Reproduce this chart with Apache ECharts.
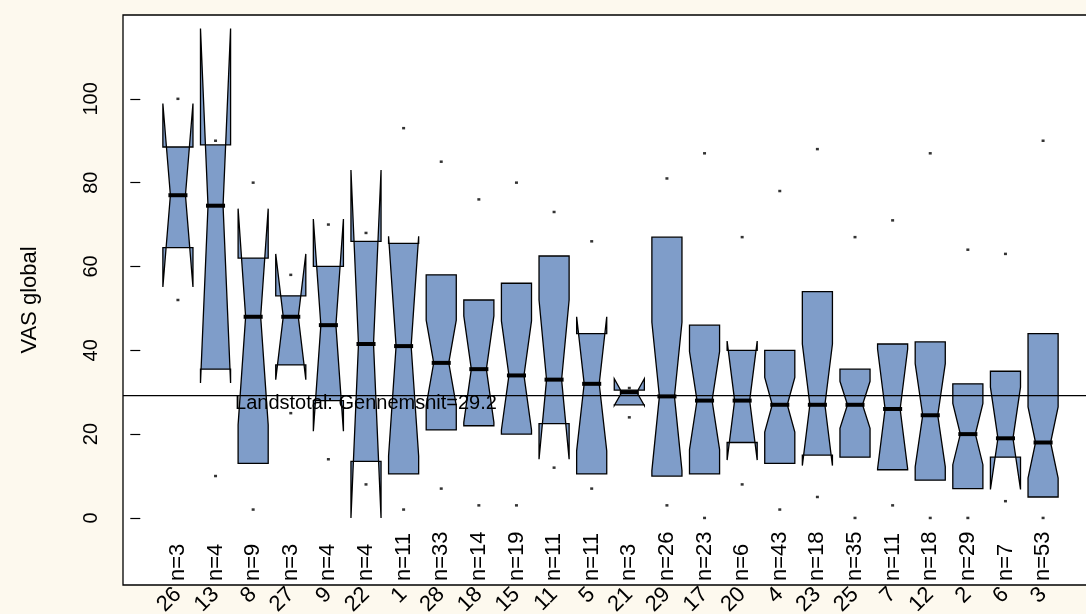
<!DOCTYPE html>
<html>
<head>
<meta charset="utf-8">
<script src="https://cdn.jsdelivr.net/npm/echarts@6/dist/echarts.min.js"></script>
<style>
  html, body { margin: 0; padding: 0; background: #fdf9ee; }
  #chart { width: 1086px; height: 614px; }
</style>
</head>
<body>
<div id="chart"></div>
<script>
// Groups in plotting order (sorted by median VAS)
const groups = ['26','13','8','27','9','22','1','28','18','15','11','5','21','29','17','20','4','23','25','7','12','2','6','3'];
const counts = [3,4,9,3,4,4,11,33,14,19,11,11,3,26,23,6,43,18,35,11,18,29,7,53];

// Box statistics
const lowerHinge = [64.5,35.5,13,36.5,28,13.5,10.5,21,22,20,22.5,10.5,27,10,10.5,18,13,15,14.5,11.5,9,7,14.5,5];
const medians    = [77,74.5,48,48,46,41.5,41,37,35.5,34,33,32,30,29,28,28,27,27,27,26,24.5,20,19,18];
const upperHinge = [88.5,89,62,53,60,66,65.5,58,52,56,62.5,44,30.5,67,46,40,40,54,35.5,41.5,42,32,35,44];

// Notch limits around the median
const notchLow  = [55.1,32.2,22.2,33,20.7,0,14.8,26.8,22.8,21,14,16,26.8,11.3,16.3,13.8,20.5,12.5,21.4,11.7,12.2,12.7,6.8,9.5];
const notchHigh = [98.9,116.8,73.8,63,71.3,83,67.2,47.2,48.2,47,52,48,33.2,46.7,39.7,42.2,33.5,41.5,32.6,40.3,36.8,27.3,31.2,26.5];

// Extreme observations per group
const minPoints = [52,10,2,25,14,8,2,7,3,3,12,7,24,3,0,8,2,5,0,3,0,0,4,0];
const maxPoints = [100,90,80,58,70,68,93,85,76,80,73,66,31,81,87,67,78,88,67,71,87,64,63,90];

// Overall mean
const overallMean = 29.2;
const meanLabel = 'Landstotal: Gennemsnit=' + overallMean;
const meanLabelAt = [6, 27.2];

const yTicks = [0, 20, 40, 60, 80, 100];

const FONT = "'Liberation Sans', Arial, Helvetica, sans-serif";
const BOX_FILL = '#7f9dc9';
const HALF_W = 0.4;
const NOTCH_FRAC = 0.5;

const boxData = groups.map((g, i) => [i + 1, lowerHinge[i], medians[i], upperHinge[i], notchLow[i], notchHigh[i], counts[i]]);
const pointData = [];
groups.forEach((g, i) => {
  pointData.push([i + 1, minPoints[i]]);
  pointData.push([i + 1, maxPoints[i]]);
});

function renderBox(params, api) {
  const x = api.value(0);
  const q1 = api.value(1), md = api.value(2), q3 = api.value(3);
  const lo = api.value(4), hi = api.value(5), n = api.value(6);
  const w = HALF_W, f = NOTCH_FRAC;
  const outline = [
    [x - w, q1], [x + w, q1], [x + w, lo], [x + f * w, md], [x + w, hi],
    [x + w, q3], [x - w, q3], [x - w, hi], [x - f * w, md], [x - w, lo]
  ].map(p => api.coord(p));
  const m1 = api.coord([x - f * w, md]);
  const m2 = api.coord([x + f * w, md]);
  const cs = params.coordSys;
  const base = api.coord([x, 0]);
  return {
    type: 'group',
    children: [
      {
        type: 'polygon',
        shape: { points: outline },
        style: { fill: BOX_FILL, stroke: '#000', lineWidth: 1.3, lineJoin: 'miter' }
      },
      {
        type: 'line',
        shape: { x1: m1[0], y1: m1[1], x2: m2[0], y2: m2[1] },
        style: { stroke: '#000', lineWidth: 4, lineCap: 'square' }
      },
      {
        type: 'text',
        x: base[0],
        y: cs.y + cs.height - 4,
        rotation: Math.PI / 2,
        style: { text: 'n=' + n, fill: '#000', font: '22px ' + FONT, align: 'left', verticalAlign: 'middle' }
      }
    ]
  };
}

function renderMean(params, api) {
  const cs = params.coordSys;
  const y = api.coord([0, api.value(0)])[1];
  const t = api.coord([api.value(1), api.value(2)]);
  return {
    type: 'group',
    children: [
      {
        type: 'line',
        shape: { x1: cs.x, y1: y, x2: cs.x + cs.width, y2: y },
        style: { stroke: '#000', lineWidth: 1.2 }
      },
      {
        type: 'text',
        x: t[0], y: t[1],
        style: { text: meanLabel, fill: '#000', font: '20px ' + FONT, align: 'center', verticalAlign: 'middle' }
      }
    ]
  };
}

const chart = echarts.init(document.getElementById('chart'), null, { renderer: 'canvas' });
chart.setOption({
  animation: false,
  backgroundColor: '#fdf9ee',
  grid: {
    show: true,
    left: 123, right: -12, top: 15, bottom: 29,
    outerBoundsMode: 'none',
    containLabel: false,
    backgroundColor: '#ffffff',
    borderColor: '#000', borderWidth: 1.3
  },
  xAxis: {
    type: 'value',
    min: -0.46, max: 25.46,
    axisLine: { show: false },
    axisTick: { show: false },
    splitLine: { show: false },
    axisLabel: {
      customValues: groups.map((g, i) => i + 1),
      formatter: v => groups[Math.round(v) - 1] || '',
      rotate: 45,
      margin: 6,
      fontSize: 22,
      fontFamily: FONT,
      color: '#000'
    }
  },
  yAxis: {
    type: 'value',
    min: -16, max: 120,
    name: 'VAS global',
    nameLocation: 'middle',
    nameRotate: 90,
    nameGap: 82,
    nameTextStyle: { fontSize: 22, fontFamily: FONT, color: '#000' },
    axisLine: { show: false },
    splitLine: { show: false },
    axisTick: { show: true, customValues: yTicks, length: 10, lineStyle: { color: '#000', width: 1.2 } },
    axisLabel: {
      customValues: yTicks,
      rotate: 90,
      margin: 22,
      fontSize: 20,
      fontFamily: FONT,
      color: '#000'
    }
  },
  series: [
    {
      type: 'custom',
      name: 'boxes',
      renderItem: renderBox,
      data: boxData,
      encode: { x: 0, y: [1, 2, 3, 4, 5] },
      clip: false,
      z: 2
    },
    {
      type: 'custom',
      name: 'mean',
      renderItem: renderMean,
      data: [[overallMean, meanLabelAt[0], meanLabelAt[1]]],
      encode: { y: 0 },
      z: 3
    },
    {
      type: 'scatter',
      name: 'extremes',
      data: pointData,
      symbol: 'rect',
      symbolSize: [3, 2.5],
      itemStyle: { color: '#000' },
      z: 4
    }
  ]
});
</script>
</body>
</html>
